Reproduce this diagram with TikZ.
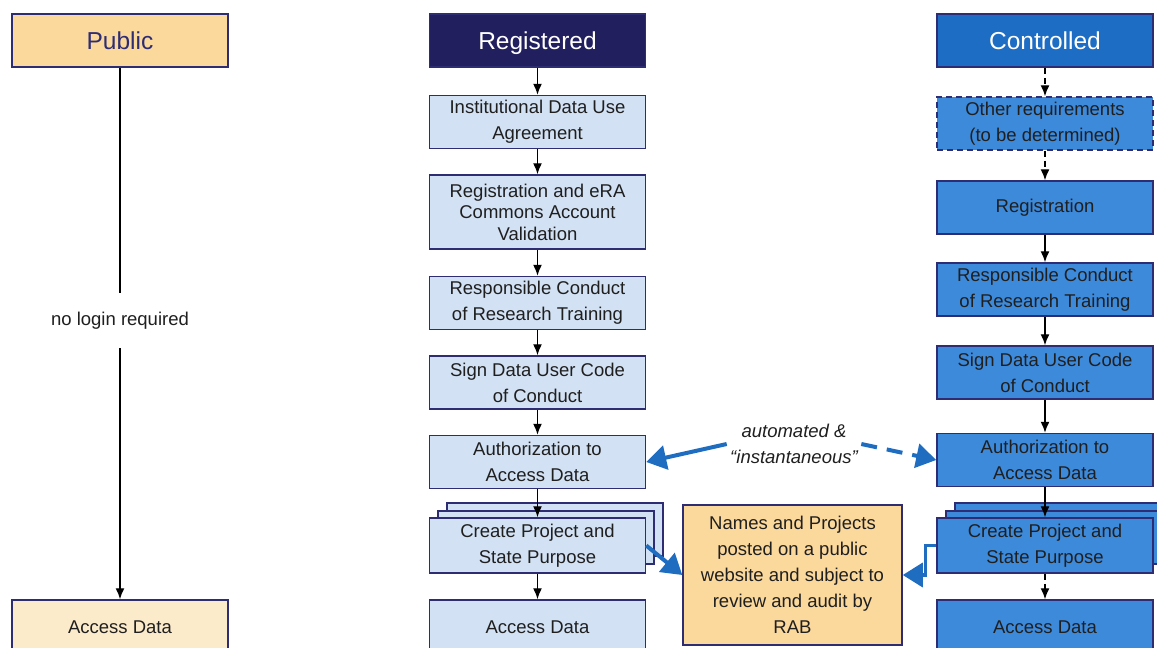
\documentclass[tikz,border=0pt]{standalone}
\usepackage{fontspec}
\setmainfont{Liberation Sans}
\usepackage{tikz}
\usetikzlibrary{arrows,arrows.meta}
\definecolor{navy}{HTML}{2E2D73}
\definecolor{pubfill}{HTML}{FBD89C}
\definecolor{pubacc}{HTML}{FCEBCB}
\definecolor{reghead}{HTML}{221F5E}
\definecolor{regfill}{HTML}{D2E1F3}
\definecolor{ctrlhead}{HTML}{1E6DC4}
\definecolor{ctrlfill}{HTML}{3D8ADB}
\definecolor{arrowblue}{HTML}{1F6DC0}
\tikzset{box/.style = {shape = rectangle, draw = navy, line width = 1.5pt, minimum width = 216pt, minimum height = 53pt, align = center, inner sep = 2pt, text = black!88, font = \fontsize{18.5}{26}\selectfont}}
\tikzset{header/.style = {box, font = \fontsize{24.5}{28}\selectfont, text height = 17.6pt, text depth = 0pt}}
\tikzset{edge/.style = {->,> = {Latex[length = 11pt, width = 9pt]}, line width = 1.4pt}}
\tikzset{dashededge/.style = {edge, dash pattern = on 6pt off 4pt}}
\tikzset{bluearrow/.style = {-{Triangle[length=20pt,width=24pt]}, line width = 4pt, draw = arrowblue}}

\begin{document}
\begin{tikzpicture}[x=1pt, y=-1pt]
			\clip (0, 0) rectangle (1157, 648);
			% public
			\node[header, fill = pubfill, text = navy] (pub) at (120, 40.5) {Public};
			\node[box, fill = pubacc, minimum height = 54pt] (pacc) at (120, 627) {Access Data};

			% registered
			\node[header, fill = reghead, text = white] (reg) at (537.5, 40.5) {Registered};
			\node[box, fill = regfill] (rinst) at (537.5, 122) {Institutional Data Use\\Agreement};
			\node[box, fill = regfill, minimum height = 74pt, font = \fontsize{18.5}{21.5}\selectfont] (rregi) at (537.5, 212) {Registration and eRA\\Commons Account\\Validation};
			\node[box, fill = regfill] (rresp) at (537.5, 303) {Responsible Conduct\\of Research Training};
			\node[box, fill = regfill] (rsign) at (537.5, 382.5) {Sign Data User Code\\of Conduct};
			\node[box, fill = regfill] (rauth) at (537.5, 462) {Authorization to\\Access Data};
			\node[box, fill = regfill] (rback) at (555, 529.5) {};
			\node[box, fill = regfill] (rmid) at (546, 537.5) {};
			\node[box, fill = regfill, minimum height = 55pt] (rcreate) at (537.5, 545.5) {Create Project and\\State Purpose};
			\node[box, fill = regfill, minimum height = 54pt] (racc) at (537.5, 627) {Access Data};

			% controlled
			\node[header, fill = ctrlhead, text = white] (ctrl) at (1045, 40.5) {Controlled};
			\node[box, fill = ctrlfill, dash pattern = on 6pt off 4pt] (cother) at (1045, 123.5) {Other requirements\\(to be determined)};
			\node[box, fill = ctrlfill] (cregi) at (1045, 207.5) {Registration};
			\node[box, fill = ctrlfill] (cresp) at (1045, 289.5) {Responsible Conduct\\of Research Training};
			\node[box, fill = ctrlfill] (csign) at (1045, 372.5) {Sign Data User Code\\of Conduct};
			\node[box, fill = ctrlfill] (cauth) at (1045, 460) {Authorization to\\Access Data};
			\node[box, fill = ctrlfill] (cback) at (1063, 529.5) {};
			\node[box, fill = ctrlfill] (cmid) at (1054, 537.5) {};
			\node[box, fill = ctrlfill, minimum height = 55pt] (ccreate) at (1045, 545.5) {Create Project and\\State Purpose};
			\node[box, fill = ctrlfill, minimum height = 54pt] (cacc) at (1045, 627) {Access Data};

			% middle
			\node[box, fill = pubfill, minimum width = 219pt, minimum height = 140pt] (names) at (792.5, 575) {Names and Projects\\posted on a public\\website and subject to\\review and audit by\\RAB};
			\node[align = center, text = black!88, font = \fontsize{18.5}{26}\selectfont\itshape] (auto) at (794, 444) {automated \&\\“instantaneous”};

			\draw[edge] (pub) -- node[pos = 0.475, fill = white, inner ysep = 19pt, text = black!88, font = \fontsize{18.5}{26}\selectfont] {no login required} (pacc);

			\draw[edge] (reg) to (rinst);
			\draw[edge] (rinst) to (rregi);
			\draw[edge] (rregi) to (rresp);
			\draw[edge] (rresp) to (rsign);
			\draw[edge] (rsign) to (rauth);
			\draw[edge] (rauth) to (rcreate);
			\draw[edge] (rcreate) to (racc);

			\draw[dashededge] (ctrl) to (cother);
			\draw[dashededge] (cother) to (cregi);
			\draw[edge] (cregi) to (cresp);
			\draw[edge] (cresp) to (csign);
			\draw[edge] (csign) to (cauth);
			\draw[edge] (cauth) to (ccreate);
			\draw[dashededge] (ccreate) to (cacc);

			\draw[bluearrow] (auto.west) to (rauth.east);
			\draw[bluearrow, dash pattern = on 16pt off 10pt] (auto.east) to (cauth.west);
			\draw[bluearrow] (rcreate.east) to (names.west);
			\draw[bluearrow, line width = 3.5pt] (ccreate.west) -- ++(-11, 0) |- (names.east);
		\end{tikzpicture}
\end{document}
